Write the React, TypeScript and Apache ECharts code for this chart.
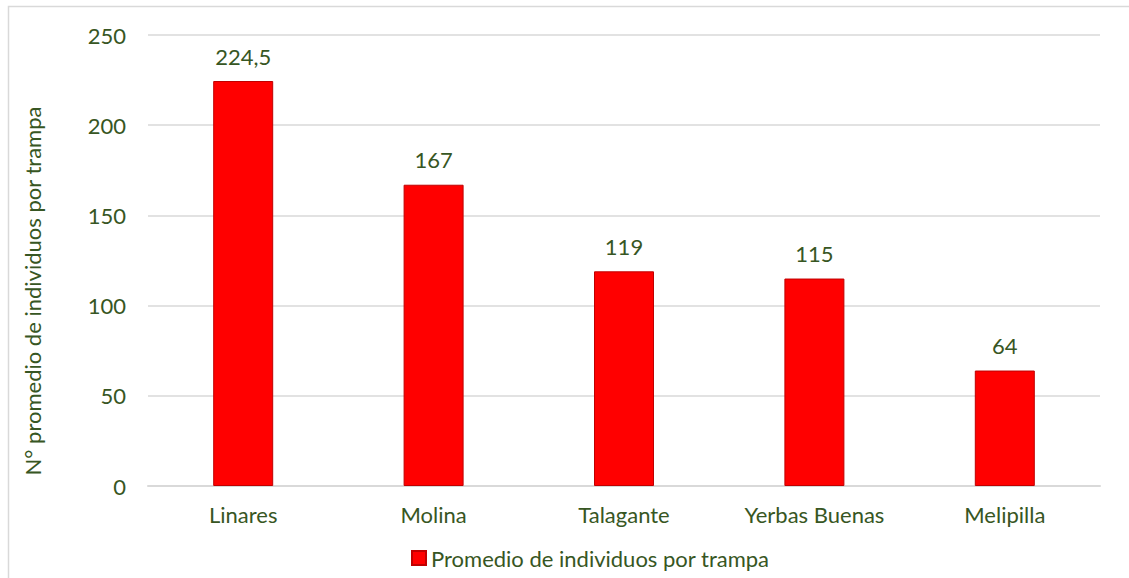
import React, { useEffect, useRef } from "react";
import * as echarts from "echarts";

const categories = ["Linares", "Molina", "Talagante", "Yerbas Buenas", "Melipilla"];
const values = [224.5, 167, 119, 115, 64];
const seriesName = "Promedio de individuos por trampa";
const yAxisTitle = "N° promedio de individuos por trampa";

const TEXT = "#375623";
const FONT = "Lato, 'Open Sans', sans-serif";
const FS = 22;

export default function App() {
  const ref = useRef<HTMLDivElement>(null);
  useEffect(() => {
    const chart = echarts.init(ref.current!, null, { renderer: "svg" });
    chart.setOption({
      animation: false,
      backgroundColor: "#ffffff",
      textStyle: { fontFamily: FONT },
      grid: { left: 148, right: 29, top: 35, bottom: 92 },
      legend: {
        data: [seriesName],
        left: 406,
        top: 542,
        itemWidth: 14,
        itemHeight: 14,
        icon: "rect",
        itemGap: 6,
        textStyle: { color: TEXT, fontSize: FS, fontFamily: FONT },
      },
      xAxis: {
        type: "category",
        data: categories,
        axisLine: { lineStyle: { color: "#d9d9d9", width: 2 } },
        axisTick: { show: false },
        axisLabel: { color: TEXT, fontSize: FS, margin: 17, fontFamily: FONT },
      },
      yAxis: {
        type: "value",
        min: 0,
        max: 250,
        interval: 50,
        axisLine: { show: false },
        axisTick: { show: false },
        splitLine: { lineStyle: { color: "#d9d9d9", width: 1.5 } },
        axisLabel: { color: TEXT, fontSize: FS, margin: 22, fontFamily: FONT },
      },
      series: [
        {
          name: seriesName,
          type: "bar",
          data: values,
          barWidth: 60,
          itemStyle: { color: "#ff0000", borderColor: "#c00000", borderWidth: 1 },
          label: {
            show: true,
            position: "top",
            distance: 14,
            color: TEXT,
            fontSize: FS,
            fontFamily: FONT,
            formatter: (p: any) => String(p.value).replace(".", ","),
          },
        },
      ],
      graphic: [
        {
          type: "rect",
          silent: true,
          shape: { x: 8.5, y: 6.5, width: 1130, height: 580 },
          style: { fill: "none", stroke: "#d9d9d9", lineWidth: 1.5 },
        },
        {
          type: "text",
          x: 32,
          y: 291,
          rotation: Math.PI / 2,
          style: {
            text: yAxisTitle,
            fill: TEXT,
            fontSize: FS,
            fontFamily: FONT,
            align: "center",
            verticalAlign: "middle",
          },
        },
      ],
    });
    return () => chart.dispose();
  }, []);
  return (
    <div
      ref={ref}
      style={{ position: "absolute", left: 0, top: 0, width: 1129, height: 578 }}
    />
  );
}
